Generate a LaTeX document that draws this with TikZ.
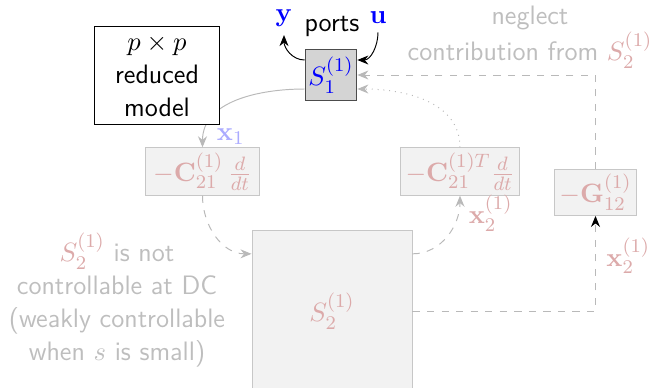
\documentclass[tikz,border=0pt]{standalone}
\usepackage{amsmath}
\usetikzlibrary{arrows.meta,calc,positioning}

\definecolor{fadered}{RGB}{220,170,170}
\definecolor{fadegray}{RGB}{190,190,190}
\definecolor{lineg}{RGB}{185,185,185}

\tikzset{
  blk/.style={draw=black!70,fill=black!17,text=blue,minimum width=7.5mm,minimum height=7.5mm,inner sep=1pt},
  faded/.style={draw=black!22,fill=black!5,text=fadered,minimum height=6.5mm,inner sep=2pt},
  conn/.style={draw=lineg,-{Stealth[length=1.6mm,width=1.3mm]}},
  dconn/.style={conn,dashed},
  dotconn/.style={conn,dotted},
}

\begin{document}
\begin{tikzpicture}[x=1.45mm,y=1.45mm,font=\sffamily\fontsize{11}{13.6}\selectfont]
  \useasboundingbox (0,0) rectangle (65.3,38.7);

  % blocks
  \node[blk] (s1) at (33.1,31.2) {$S_1^{(1)}$};
  \node[faded,minimum width=16.4mm] (c21) at (20.25,21.55) {$-\mathbf{C}_{21}^{(1)}\,\frac{d}{dt}$};
  \node[faded,minimum width=16.4mm] (c21t) at (46.0,21.55) {$-\mathbf{C}_{21}^{(1)T}\frac{d}{dt}$};
  \node[faded,minimum width=12mm] (g12) at (59.55,19.45) {$-\mathbf{G}_{12}^{(1)}$};
  \node[faded,minimum width=23.2mm,minimum height=23.4mm] (s2) at (33.2,7.6) {$S_2^{(1)}$};

  % ports
  \node (ports) at (33.2,36.1) {ports};
  \node[text=blue] (ylab) at (28.4,36.9) {$\mathbf{y}$};
  \node[text=blue] (ulab) at (37.8,36.9) {$\mathbf{u}$};
  \draw[-{Stealth[length=1.6mm,width=1.3mm]}] ($(s1.west)+(0,1.5)$) to[out=180,in=-90] (ylab.south);
  \draw[-{Stealth[length=1.6mm,width=1.3mm]}] (ulab.south) to[out=-90,in=0] ($(s1.east)+(0,1.5)$);

  % loop through S2
  \draw[conn] ($(s1.west)+(0,-1.4)$) to[out=180,in=90]
    node[pos=0.92,right=2pt,text=blue!33] {$\mathbf{x}_1$} (c21.north);
  \draw[dconn] (c21.south) to[out=-90,in=180] ($(s2.north west)+(0,-2.4)$);
  \draw[dconn] ($(s2.north east)+(0,-2.4)$) to[out=0,in=-90]
    node[pos=0.8,right=1pt,text=fadered] {$\mathbf{x}_2^{(1)}$} (c21t.south);
  \draw[dotconn] (c21t.north) to[out=90,in=0] ($(s1.east)+(0,-1.4)$);

  % neglected path
  \draw[dconn,-{Stealth[length=1.6mm,width=1.3mm,color=black]}] (s2.east) -|
    node[pos=0.79,right=1pt,text=fadered] {$\mathbf{x}_2^{(1)}$} (g12.south);
  \draw[dconn] (g12.north) |- (s1.east);

  \node[draw,fill=white,align=center,minimum width=18mm,minimum height=14mm] (rom) at (15.7,31.15) {$p\times p$\\reduced\\model};

  % notes
  \node[text=fadegray,align=center] (note) at (11.7,8.7) {\textcolor{fadered}{$S_2^{(1)}$} is not\\controllable at DC\\(weakly controllable\\when $s$ is small)};
  \node[text=fadegray,align=center] (negl) at (53.0,35.0) {neglect\\contribution from \textcolor{fadered}{$S_2^{(1)}$}};
\end{tikzpicture}
\end{document}
